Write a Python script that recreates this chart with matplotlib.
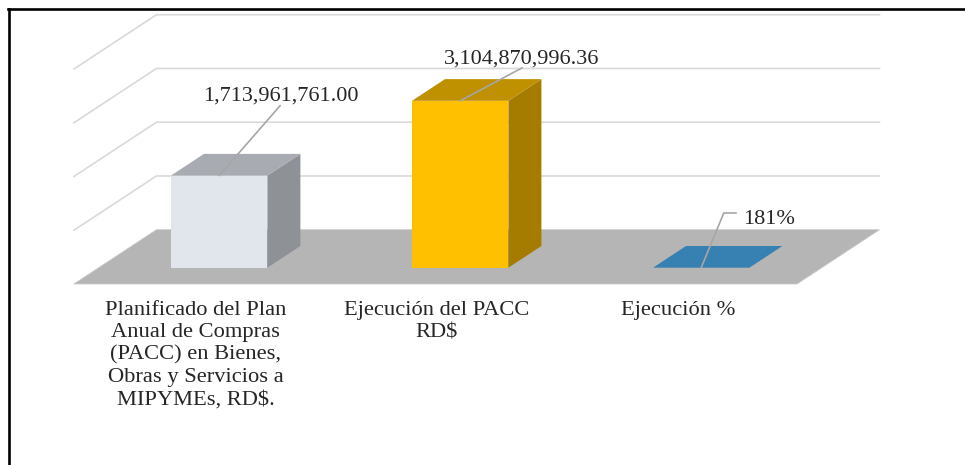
from matplotlib import pyplot as plt
from matplotlib.lines import Line2D
from matplotlib.patches import Polygon

categories = ["Planificado del Plan\nAnual de Compras\n(PACC) en Bienes,\nObras y Servicios a\nMIPYMEs, RD$.",
              "Ejecución del PACC\nRD$",
              "Ejecución %"]
values = [1713961761.00, 3104870996.36, 1.81]
value_labels = ["1,713,961,761.00", "3,104,870,996.36", "181%"]
grid_values = [0, 1e9, 2e9, 3e9, 4e9]

front_colors = ["#e1e5ec", "#ffc000", "#3780b2"]
side_colors = ["#8e9195", "#a67c00", "#3780b2"]
top_colors = ["#a8abb1", "#bf9000", "#3780b2"]

plt.rcParams['font.family'] = ['Liberation Serif', 'DejaVu Sans']

# scale of the chart in the picture
px_cat = 241.0
px_val = 53.75 / 1e9
x0 = 219.2
y0 = 267.7
bar_w = 0.4
depth_x = 33 / px_cat
depth_y = 21.7 / px_val

fig = plt.figure(figsize=(9.65, 4.65), dpi=100)
ax = fig.add_axes([0, 0, 1, 1])
ax.set_xlim(-x0 / px_cat, (965 - x0) / px_cat)
ax.set_ylim(-(465 - y0) / px_val, y0 / px_val)
ax.axis('off')


def pt(x, v, d=0.0):
    # d is depth, 1 = depth of a bar
    return (x + d * depth_x, v + d * depth_y)


# walls and floor
grid_color = "#d9d9d9"
d_front, d_back = -0.75, 1.75
for g in grid_values[1:]:
    a = pt(-0.5, g, d_front)
    b = pt(-0.5, g, d_back)
    c = pt(2.5, g, d_back)
    ax.plot([a[0], b[0], c[0]], [a[1], b[1], c[1]], color=grid_color, lw=1.2, zorder=1)

floor = [pt(-0.5, 0, d_front), pt(2.5, 0, d_front), pt(2.5, 0, d_back), pt(-0.5, 0, d_back)]
ax.add_patch(Polygon(floor, closed=True, facecolor="#b5b5b5", edgecolor="#c8c8c8", lw=0.6, zorder=2))

# bars
for i, v in enumerate(values):
    l, r = i - bar_w / 2, i + bar_w / 2
    ax.add_patch(Polygon([pt(r, 0), pt(r, 0, 1), pt(r, v, 1), pt(r, v)], closed=True,
                         facecolor=side_colors[i], edgecolor='none', zorder=3))
    ax.add_patch(Polygon([pt(l, v), pt(r, v), pt(r, v, 1), pt(l, v, 1)], closed=True,
                         facecolor=top_colors[i], edgecolor='none', zorder=3))
    ax.bar(i, v, width=bar_w, color=front_colors[i], zorder=4)

# value labels and leader lines, offsets in pixels from the bar top
leader_ends = [(61, 70), (62, 33), (22.5, 54.5)]
label_offsets = [(62, 80), (61, 42), (67.5, 48)]
line_color = "#a6a6a6"
for i, v in enumerate(values):
    ax.annotate("", xy=(i, v), xytext=leader_ends[i], textcoords='offset pixels',
                arrowprops=dict(arrowstyle='-', color=line_color, lw=1.2, shrinkA=0, shrinkB=0), zorder=5)
    ax.annotate(value_labels[i], xy=(i, v), xytext=label_offsets[i], textcoords='offset pixels',
                ha='center', va='center', fontsize=16, color="#262626", zorder=6)

# short elbow on the last leader
elbow = (2 + leader_ends[2][0] / px_cat, values[2] + leader_ends[2][1] / px_val)
ax.plot([elbow[0], elbow[0] + 12.5 / px_cat], [elbow[1], elbow[1]], color=line_color, lw=1.2, zorder=5)

# category labels
for i, c in enumerate(categories):
    ax.text(i - 23.5 / px_cat, -(301 - y0) / px_val, c, ha='center', va='top', fontsize=16.2,
            color="#262626", linespacing=1.23, zorder=6)

# frame of the screenshot, top and left only
fig.add_artist(Line2D([9 / 965, 9 / 965], [0, 1 - 9 / 465], color='black', lw=1.9))
fig.add_artist(Line2D([8 / 965, 1], [1 - 9 / 465, 1 - 9 / 465], color='black', lw=1.9))

plt.savefig("out.png", dpi=100)
